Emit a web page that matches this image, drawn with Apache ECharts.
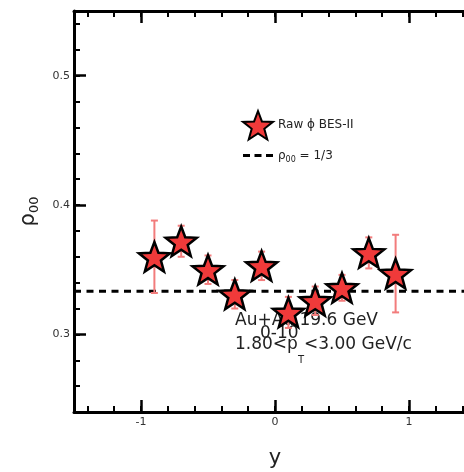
<!DOCTYPE html>
<html>
<head>
<meta charset="utf-8">
<script src="https://cdn.jsdelivr.net/npm/echarts@6/dist/echarts.min.js"></script>
<style>
  html, body { margin: 0; padding: 0; background: #fff; overflow: hidden; }
  #chart { width: 464px; height: 472px; }
</style>
</head>
<body>
<div id="chart"></div>
<script>
// raw phi rho00 vs rapidity, Au+Au 19.6 GeV, 0-10%
var rapidity = [-0.9, -0.7, -0.5, -0.3, -0.1, 0.1, 0.3, 0.5, 0.7, 0.9];
var rho00 = [0.360, 0.372, 0.350, 0.331, 0.353, 0.317, 0.326, 0.336, 0.363, 0.347];
var rho00Err = [0.028, 0.012, 0.011, 0.011, 0.011, 0.012, 0.011, 0.010, 0.012, 0.030];
var refValue = 1 / 3;
var xRange = [-1.5, 1.5];
var yRange = [0.24, 0.55];
var xTickLabels = [-1, 0, 1];
var yTickLabels = [0.3, 0.4, 0.5];

var font = 'DejaVu Sans';
var starRed = '#f03a3a';
var errRed = '#f27c7c';

// 5 point star, point up
function starPath() {
  var pts = [];
  for (var i = 0; i < 10; i++) {
    var a = (-90 + i * 36) * Math.PI / 180;
    var r = i % 2 ? 0.42 : 1;
    pts.push((r * Math.cos(a)).toFixed(4) + ' ' + (r * Math.sin(a)).toFixed(4));
  }
  return 'path://M' + pts.join(' L') + ' Z';
}
// three dashes for the legend entry of the reference line
var dashIcon = 'path://M0 0h7v3h-7zM11.5 0h7v3h-7zM23 0h7v3h-7z';

function labelFor(list) {
  return function (v) {
    for (var i = 0; i < list.length; i++) {
      if (Math.abs(v - list[i]) < 1e-6) return String(list[i]);
    }
    return '';
  };
}

// one axis of the frame; minor ones only carry the small ticks
function axis(dim, position, minor) {
  var range = dim === 'x' ? xRange : yRange;
  return {
    type: 'value',
    position: position,
    min: range[0],
    max: range[1],
    splitNumber: minor ? 15 : 3,
    splitLine: { show: false },
    axisLine: { show: !minor, onZero: false, lineStyle: { color: '#000', width: 3 } },
    axisTick: { inside: true, length: minor ? 6 : 12, lineStyle: { color: '#000', width: minor ? 2 : 2.5 } },
    axisLabel: { show: false }
  };
}

var xMain = axis('x', 'bottom', false);
xMain.axisLabel = {
  show: true, margin: 5, fontSize: 11, fontFamily: font, color: '#333',
  formatter: labelFor(xTickLabels)
};
xMain.name = 'y';
xMain.nameLocation = 'middle';
xMain.nameGap = 36;
xMain.nameTextStyle = { fontSize: 21, fontFamily: font, color: '#222' };

var yMain = axis('y', 'left', false);
yMain.axisLabel = {
  show: true, margin: 4, fontSize: 11, fontFamily: font, color: '#333',
  formatter: labelFor(yTickLabels)
};
yMain.name = '{r|ρ}{s|00}';
yMain.nameLocation = 'middle';
yMain.nameRotate = 90;
yMain.nameGap = 30;
yMain.nameTextStyle = {
  fontFamily: font, color: '#222',
  rich: {
    r: { fontSize: 21, fontFamily: font, color: '#222' },
    s: { fontSize: 13, fontFamily: font, color: '#222', padding: [14, 0, 0, 0] }
  }
};

var chart = echarts.init(document.getElementById('chart'));
chart.setOption({
  animation: false,
  grid: { left: 74, top: 11, right: -12, bottom: 60, outerBoundsMode: 'none' },
  xAxis: [xMain, axis('x', 'bottom', true), axis('x', 'top', false), axis('x', 'top', true)],
  yAxis: [yMain, axis('y', 'left', true), axis('y', 'right', false), axis('y', 'right', true)],
  legend: {
    orient: 'vertical',
    left: 237,
    top: 105,
    itemWidth: 30,
    itemHeight: 30,
    itemGap: 9,
    data: [
      { name: 'Raw ϕ BES-II' },
      { name: 'ρ00 = 1/3', icon: dashIcon, itemStyle: { color: '#000', borderWidth: 0 } }
    ],
    formatter: function (name) {
      if (name.charAt(0) === 'ρ') return '{g|ρ}{s|00}{g| = 1/3}';
      return '{g|' + name + '}';
    },
    textStyle: {
      fontFamily: font, fontSize: 12, color: '#222',
      rich: {
        g: { fontFamily: font, fontSize: 12, color: '#222' },
        s: { fontFamily: font, fontSize: 8, color: '#222', padding: [8, 0, 0, 0] }
      }
    }
  },
  graphic: [
    {
      type: 'text', left: 235, top: 312,
      style: { text: 'Au+Au 19.6 GeV', fontFamily: font, fontSize: 17, fill: '#222' }
    },
    {
      type: 'text', left: 260, top: 325,
      style: { text: '0-10', fontFamily: font, fontSize: 17, fill: '#222' }
    },
    {
      type: 'text', left: 235, top: 325,
      style: {
        text: '{m|1.80<p}{sub|T}{m|<3.00 GeV/c}',
        rich: {
          m: { fontFamily: font, fontSize: 17, fill: '#222', lineHeight: 20 },
          sub: { fontFamily: font, fontSize: 10, fill: '#222', lineHeight: 10, padding: [30, 0, 0, 0] }
        }
      }
    }
  ],
  series: [
    {
      name: 'ρ00 = 1/3',
      type: 'line',
      symbol: 'none',
      silent: true,
      data: [[xRange[0], refValue], [xRange[1], refValue]],
      itemStyle: { color: '#000' },
      lineStyle: { color: '#000', width: 3, type: [7, 5.5] },
      z: 1
    },
    {
      name: 'errors',
      type: 'custom',
      data: rapidity.map(function (x, i) { return [x, rho00[i] - rho00Err[i], rho00[i] + rho00Err[i]]; }),
      encode: { x: 0, y: [1, 2] },
      renderItem: function (params, api) {
        var lo = api.coord([api.value(0), api.value(1)]);
        var hi = api.coord([api.value(0), api.value(2)]);
        var c = 3.5;
        var st = { stroke: errRed, lineWidth: 2 };
        return {
          type: 'group',
          children: [
            { type: 'line', shape: { x1: lo[0], y1: lo[1], x2: hi[0], y2: hi[1] }, style: st },
            { type: 'line', shape: { x1: lo[0] - c, y1: lo[1], x2: lo[0] + c, y2: lo[1] }, style: st },
            { type: 'line', shape: { x1: hi[0] - c, y1: hi[1], x2: hi[0] + c, y2: hi[1] }, style: st }
          ]
        };
      },
      z: 2
    },
    {
      name: 'Raw ϕ BES-II',
      type: 'scatter',
      symbol: starPath(),
      symbolSize: 31,
      symbolKeepAspect: true,
      data: rapidity.map(function (x, i) { return [x, rho00[i]]; }),
      itemStyle: { color: starRed, borderColor: '#000', borderWidth: 2.5, opacity: 1 },
      z: 3
    }
  ]
});
</script>
</body>
</html>
